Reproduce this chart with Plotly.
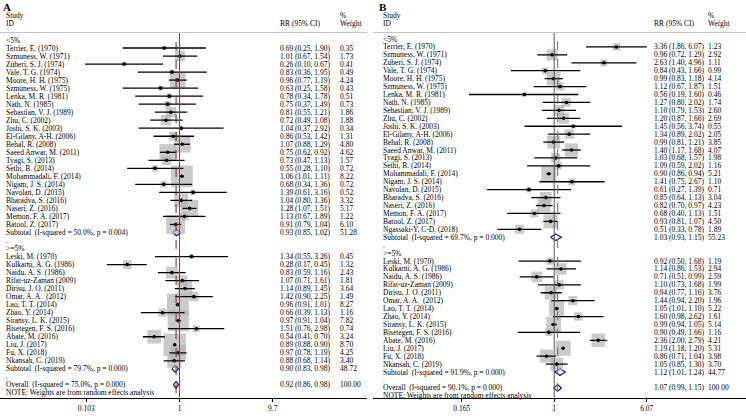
import plotly.graph_objects as go
import math

W, H = 746, 418
FONT = "Liberation Serif"
FS = 7.5

# ---------------- Panel A data ----------------
a1_names = ["Terrier, E. (1970)", "Szmuness, W. (1971)", "Zuberi, S. J. (1974)", "Vale, T. G. (1974)",
            "Moore, H. H. (1975)", "Szmuness, W. (1975)", "Lenka, M. R. (1981)", "Nath, N. (1985)",
            "Sebastian, V. J. (1989)", "Zhu, C. (2002)", "Joshi, S. K. (2003)", "El-Gilany, A-H. (2006)",
            "Behal, R. (2008)", "Saeed Anwar, M. (2011)", "Tyagi, S. (2013)", "Sethi, B. (2014)",
            "Mohammadali, F. (2014)", "Nigam, J. S. (2014)", "Navolan, D. (2015)", "Bharadva, S. (2016)",
            "Naseri, Z. (2016)", "Memon, F. A. (2017)", "Batool, Z. (2017)"]
a1_rr = [0.69, 1.01, 0.26, 0.83, 0.96, 0.63, 0.78, 0.75, 0.81, 0.72, 1.04, 0.86, 1.07, 0.75, 0.73, 0.55,
         1.06, 0.68, 1.39, 1.04, 1.28, 1.13, 0.91]
a1_lo = [0.25, 0.67, 0.10, 0.36, 0.77, 0.25, 0.34, 0.37, 0.55, 0.49, 0.37, 0.53, 0.88, 0.62, 0.47, 0.28,
         1.01, 0.34, 0.61, 0.80, 1.07, 0.67, 0.79]
a1_hi = [1.90, 1.54, 0.67, 1.95, 1.19, 1.58, 1.78, 1.49, 1.21, 1.08, 2.92, 1.42, 1.29, 0.92, 1.13, 1.10,
         1.11, 1.36, 3.16, 1.36, 1.51, 1.89, 1.04]
a1_w = [0.35, 1.73, 0.41, 0.49, 4.24, 0.43, 0.51, 0.73, 1.86, 1.88, 0.34, 1.31, 4.80, 4.62, 1.57, 0.72,
        8.22, 0.72, 0.52, 3.32, 5.17, 1.22, 6.10]
a1_sub = ("Subtotal  (I-squared = 50.0%, p = 0.004)", 0.93, 0.85, 1.02, 51.28)

a2_names = ["Leski, M. (1970)", "Kulkarni, A. G. (1986)", "Naidu, A. S. (1986)", "Rifat-uz-Zaman (2009)",
            "Dirisu, J. O. (2011)", "Omar, A. A.  (2012)", "Lao, T. T. (2014)", "Zhao, Y. (2014)",
            "Siransy, L. K. (2015)", "Bisetegen, F. S. (2016)", "Abate, M. (2016)", "Liu, J. (2017)",
            "Fu, X. (2018)", "Nkansah, C. (2019)"]
a2_rr = [1.34, 0.28, 0.83, 1.07, 1.14, 1.42, 0.96, 0.66, 0.97, 1.51, 0.54, 0.89, 0.97, 0.88]
a2_lo = [0.55, 0.17, 0.59, 0.71, 0.89, 0.90, 0.91, 0.39, 0.91, 0.76, 0.41, 0.88, 0.78, 0.68]
a2_hi = [3.26, 0.45, 1.16, 1.61, 1.45, 2.25, 1.01, 1.13, 1.04, 2.98, 0.70, 0.90, 1.19, 1.14]
a2_w = [0.45, 1.32, 2.43, 1.81, 3.64, 1.49, 8.27, 1.16, 7.82, 0.74, 3.24, 8.70, 4.25, 3.40]
a2_sub = ("Subtotal  (I-squared = 79.7%, p = 0.000)", 0.90, 0.83, 0.98, 48.72)
a_overall = ("Overall  (I-squared = 75.0%, p = 0.000)", 0.92, 0.86, 0.98, 100.00)
a_ticks = [0.103, 1, 9.7]

# ---------------- Panel B data ----------------
b1_names = a1_names + ["Ngassaki-Y, C-D. (2018)"]
b1_rr = [3.36, 0.96, 2.63, 0.84, 0.99, 1.12, 0.56, 1.27, 1.10, 1.20, 1.45, 1.34, 0.99, 1.40, 1.03, 1.09,
         0.90, 1.41, 0.61, 0.85, 0.82, 0.68, 0.93, 0.51]
b1_lo = [1.86, 0.72, 1.40, 0.43, 0.83, 0.67, 0.19, 0.80, 0.79, 0.87, 0.56, 0.89, 0.81, 1.17, 0.68, 0.59,
         0.86, 0.75, 0.27, 0.64, 0.70, 0.40, 0.81, 0.33]
b1_hi = [6.07, 1.29, 4.96, 1.66, 1.18, 1.87, 1.60, 2.02, 1.53, 1.66, 3.74, 2.02, 1.21, 1.68, 1.57, 2.02,
         0.94, 2.67, 1.39, 1.13, 0.97, 1.13, 1.07, 0.78]
b1_w = [1.23, 2.92, 1.11, 0.99, 4.14, 1.51, 0.46, 1.74, 2.60, 2.69, 0.55, 2.05, 3.85, 4.07, 1.98, 1.16,
        5.21, 1.10, 0.71, 3.04, 4.23, 1.51, 4.50, 1.89]
b1_sub = ("Subtotal  (I-squared = 69.7%, p = 0.000)", 1.03, 0.93, 1.15, 55.23)

b2_names = a2_names
b2_rr = [0.92, 1.14, 0.71, 1.10, 0.94, 1.44, 1.05, 1.60, 0.99, 0.90, 2.36, 1.19, 0.86, 1.05]
b2_lo = [0.50, 0.86, 0.51, 0.73, 0.77, 0.94, 1.01, 0.98, 0.94, 0.49, 2.00, 1.18, 0.71, 0.85]
b2_hi = [1.68, 1.53, 0.99, 1.68, 1.16, 2.20, 1.10, 2.62, 1.05, 1.66, 2.79, 1.20, 1.04, 1.30]
b2_w = [1.19, 2.94, 2.59, 1.99, 3.76, 1.96, 5.22, 1.61, 5.14, 1.16, 4.21, 5.31, 3.98, 3.70]
b2_sub = ("Subtotal  (I-squared = 91.9%, p = 0.000)", 1.12, 1.01, 1.24, 44.77)
b_overall = ("Overall  (I-squared = 90.1%, p = 0.000)", 1.07, 0.99, 1.15, 100.00)
b_ticks = [0.165, 1, 6.07]

group_labels = ["<5%", ">=5%"]
note_text = "NOTE: Weights are from random effects analysis"


def build_rows(g1, g2, overall):
    rows = []
    for gi, (names, rr, lo, hi, w, sub) in enumerate([g1, g2]):
        rows.append(("head", group_labels[gi]))
        for n, r, l, h, ww in zip(names, rr, lo, hi, w):
            rows.append(("study", n, r, l, h, ww))
        rows.append(("sub",) + sub)
        rows.append(("dot", "."))
    rows.append(("sub",) + overall)
    rows.append(("note", note_text))
    return rows


panels = [
    dict(rows=build_rows((a1_names, a1_rr, a1_lo, a1_hi, a1_w, a1_sub),
                         (a2_names, a2_rr, a2_lo, a2_hi, a2_w, a2_sub), a_overall),
         overall=a_overall, ticks=a_ticks, x0=0, x1=367, one_px=179.5, dec=94.5,
         y_first=40.0, dy=8.02, k=7.6, lab_x=5, rr_x=279, w_x=339, letter="A", letter_x=2,
         xa="x", ya="y", dash="#8b1c1c"),
    dict(rows=build_rows((b1_names, b1_rr, b1_lo, b1_hi, b1_w, b1_sub),
                         (b2_names, b2_rr, b2_lo, b2_hi, b2_w, b2_sub), b_overall),
         overall=b_overall, ticks=b_ticks, x0=373, x1=746, one_px=554.2, dec=118.2,
         y_first=39.0, dy=7.93, k=6.6, lab_x=382, rr_x=652.5, w_x=707, letter="B", letter_x=378,
         xa="x2", ya="y2", dash="#c0504d"),
]

AXIS_PX = 397.5
fig = go.Figure()
annotations = []
shapes = []
layout_axes = {}

for pi, P in enumerate(panels):
    rows = P["rows"]
    xa, ya = P["xa"], P["ya"]
    sqs = []
    cx, cy = [], []
    sqx, sqy = [], []
    for i, r in enumerate(rows):
        kind = r[0]
        if kind == "study":
            _, n, rr, lo, hi, w = r
            cx += [lo, hi, None]
            cy += [i, i, None]
            sqx.append(rr)
            sqy.append(i)
            sqs.append(P["k"] * math.sqrt(w))
        elif kind == "sub":
            _, n, rr, lo, hi, w = r
            hh = 0.42
            fig.add_trace(go.Scatter(x=[lo, rr, hi, rr, lo], y=[i, i - hh, i, i + hh, i], mode="lines",
                                     fill="toself", fillcolor="white",
                                     line=dict(color="#1f1f8f", width=1.3),
                                     xaxis=xa, yaxis=ya, hoverinfo="skip", showlegend=False))
    fig.add_trace(go.Scatter(x=sqx, y=sqy, mode="markers",
                             marker=dict(symbol="square", size=sqs, color="#b4b4b4", line=dict(width=0)),
                             xaxis=xa, yaxis=ya, hoverinfo="skip", showlegend=False))
    fig.add_trace(go.Scatter(x=cx, y=cy, mode="lines", line=dict(color="black", width=1.3),
                             xaxis=xa, yaxis=ya, hoverinfo="skip", showlegend=False))
    fig.add_trace(go.Scatter(x=sqx, y=sqy, mode="markers",
                             marker=dict(symbol="circle", size=3.6, color="black"),
                             xaxis=xa, yaxis=ya, hoverinfo="skip", showlegend=False))

    def ann(xpx, y, text, yref, size=FS, bold=False):
        annotations.append(dict(x=xpx / W, y=y, xref="paper", yref=yref, text=("<b>%s</b>" % text) if bold else text,
                                showarrow=False, xanchor="left", yanchor="middle", borderpad=0,
                                font=dict(family=FONT, size=size, color="black")))

    for i, r in enumerate(rows):
        kind = r[0]
        if kind in ("head", "dot", "note"):
            ann(P["lab_x"], i, r[1], ya)
        else:
            _, n, rr, lo, hi, w = r
            ann(P["lab_x"], i, n, ya)
            ann(P["rr_x"], i, "%.2f (%.2f, %.2f)" % (rr, lo, hi), ya)
            ann(P["w_x"], i, "%.2f" % w, ya)

    def ann_px(xpx, ypx, text, size=FS, bold=False):
        annotations.append(dict(x=xpx / W, y=1 - ypx / H, xref="paper", yref="paper",
                                text=("<b>%s</b>" % text) if bold else text,
                                showarrow=False, xanchor="left", yanchor="middle", borderpad=0,
                                font=dict(family=FONT, size=size, color="black")))

    ann_px(P["letter_x"], 7, P["letter"], size=11, bold=True)
    ann_px(P["lab_x"], 15, "Study")
    ann_px(P["lab_x"], 24, "ID")
    ann_px(P["rr_x"], 24, "RR (95% CI)")
    ann_px(P["w_x"], 15, "%")
    ann_px(P["w_x"], 24, "Weight")

    shapes.append(dict(type="line", xref="paper", yref="paper", x0=P["x0"] / W, x1=P["x1"] / W,
                       y0=1 - 32.5 / H, y1=1 - 32.5 / H, line=dict(color="#c4c4c4", width=1)))
    shapes.append(dict(type="line", xref=xa, yref="paper", x0=1, x1=1,
                       y0=1 - 33 / H, y1=1 - AXIS_PX / H, line=dict(color="#555555", width=1)))
    shapes.append(dict(type="line", xref=xa, yref="paper", x0=P["overall"][1], x1=P["overall"][1],
                       y0=1 - (P["y_first"] + 2) / H, y1=1 - AXIS_PX / H,
                       line=dict(color=P["dash"], width=1, dash="dash")))

    xr = [(P["x0"] - P["one_px"]) / P["dec"], (P["x1"] - P["one_px"]) / P["dec"]]
    yr = [(AXIS_PX - P["y_first"]) / P["dy"], (0 - P["y_first"]) / P["dy"]]
    xname = "xaxis" if pi == 0 else "xaxis2"
    yname = "yaxis" if pi == 0 else "yaxis2"
    layout_axes[xname] = dict(type="log", domain=[P["x0"] / W, P["x1"] / W], range=xr,
                              tickvals=P["ticks"], ticktext=[str(t) for t in P["ticks"]],
                              showgrid=False, zeroline=False, showline=True, linecolor="black",
                              linewidth=1, ticks="outside", ticklen=3, tickcolor="black",
                              tickfont=dict(family=FONT, size=FS, color="black"),
                              anchor=ya, fixedrange=True, automargin=False)
    layout_axes[yname] = dict(domain=[1 - AXIS_PX / H, 1], range=yr, showgrid=False, zeroline=False,
                              showline=False, showticklabels=False, ticks="", anchor=xa, fixedrange=True,
                              automargin=False)

fig.update_layout(width=W, height=H, margin=dict(l=0, r=0, t=0, b=0, pad=0, autoexpand=False),
                  paper_bgcolor="white", plot_bgcolor="white", template="none",
                  annotations=annotations, shapes=shapes, showlegend=False, **layout_axes)
fig.write_html("out.html", config={"displayModeBar": False},
               post_script="document.body.style.margin='0';document.body.style.padding='0';"
                           "document.body.style.overflow='hidden';")
